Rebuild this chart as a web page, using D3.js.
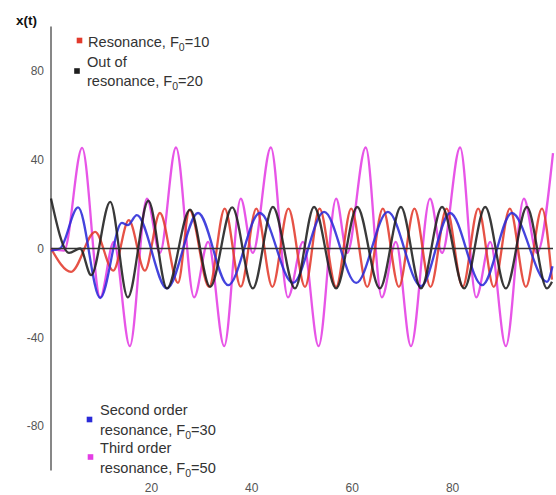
<!DOCTYPE html>
<html><head><meta charset="utf-8">
<script src="https://cdn.jsdelivr.net/npm/d3@7"></script>
<style>body{margin:0;background:#fff;}svg{display:block;font-family:Arial,"Liberation Sans",sans-serif;}</style>
</head><body>
<svg id="chart" width="556" height="495"></svg>
<script>
// Data: [t, x(t)] at start, extrema and end
const resonance10 = [[0,0],[4.0,-10.5],[8.8,7.5],[12.4,-10],[15.5,12.8],[18.7,-10],[21.7,16],[25.3,-15.5],[27.6,17.3],[31.5,-17.3],[34.6,18],[37.8,-17.2],[40.9,18],[44.1,-17.3],[47.3,18],[50.6,-17.3],[53.5,18],[56.8,-17.3],[59.8,18],[63.0,-17.3],[66.1,18],[69.3,-17.3],[72.4,18],[75.6,-17.3],[78.8,18],[82.0,-17.3],[85.1,18],[88.2,-17.3],[91.4,18],[94.6,-17.3],[97.8,18],[99.8,-14]];
const outOfResonance20 = [[0,22.5],[3.6,-2],[5.8,0],[8.0,-12],[11.8,21],[15.3,-22],[19.4,21.5],[23.1,-18],[27.7,17.5],[31.7,-17.3],[36.1,18.5],[40.2,-18],[44.2,18.7],[48.6,-18],[52.4,18.7],[56.8,-18],[61.0,18.7],[65.5,-18],[69.7,18.7],[73.7,-18],[77.9,18.7],[82.3,-18],[86.5,18.7],[90.6,-18],[94.8,18.7],[98.8,-18],[99.8,-15]];
const secondOrder30 = [[0,-1],[1.8,0],[5.4,18.5],[9.8,-22.3],[14.1,11.5],[15.3,10.5],[17.1,15],[23.1,-18],[29.3,16],[35.3,-16.5],[41.6,16],[48.2,-15.5],[54.4,16.5],[60.8,-15.5],[67.1,16.5],[73.7,-17],[79.5,16],[85.9,-16.5],[91.8,16],[98.8,-15],[99.9,-8]];
const thirdOrder50 = [[0,0],[2.6,-1],[6.2,45.3],[9.8,-22],[12.5,3],[15.7,-44],[19.1,22.5],[21.7,-2],[24.9,45.5],[28.5,-22],[31.3,3],[34.5,-44],[37.8,22.5],[40.2,-2],[43.8,45.5],[47.2,-22],[50.2,3],[53.3,-44],[56.8,22.5],[59.0,-2],[62.7,45.5],[65.9,-22],[68.7,3],[71.7,-44],[75.5,22.5],[77.9,-2],[81.5,45.5],[84.7,-22],[87.5,3],[90.6,-44],[94.2,22.5],[96.8,-2],[100,43]];
const yTicks = [-80,-40,0,40,80];
const xTicks = [20,40,60,80];
const seriesF0 = ["=10","=20","=30","=50"];
const seriesColors = ["#e23a2c","#1e1e1e","#2a2ad8","#e43ee4"];

const svg = d3.select("#chart");
const x = d3.scaleLinear().domain([0,100]).range([51,553]);
const y = d3.scaleLinear().domain([-100,100]).range([470.5,26.5]);

// y axis line
svg.append("line").attr("x1",x(0)).attr("x2",x(0)).attr("y1",y(100)).attr("y2",y(-100))
  .attr("stroke","#7a7a7a").attr("stroke-width",1.8);
// y tick labels
svg.append("g").selectAll("text").data(yTicks).join("text")
  .attr("x",44).attr("y",d=>y(d)).attr("dy","0.35em").attr("text-anchor","end")
  .attr("font-size",12).attr("fill","#555").text(d=>d);
// x tick labels
svg.append("g").selectAll("text").data(xTicks).join("text")
  .attr("x",d=>x(d)).attr("y",488).attr("dy","0.35em").attr("text-anchor","middle")
  .attr("font-size",12).attr("fill","#555").text(d=>d);
// axis title
svg.append("text").attr("x",16).attr("y",25).attr("font-size",13.5).attr("font-weight","bold").attr("fill","#111").text("x(t)");

// curves
const line = d3.line().x(d=>x(d[0])).y(d=>y(d[1])).curve(d3.curveMonotoneX);
const data = [resonance10, outOfResonance20, secondOrder30, thirdOrder50];
const drawOrder = [3,0,2,1];
drawOrder.forEach(i=>{
  svg.append("path").datum(data[i]).attr("d",line).attr("fill","none")
    .attr("stroke",seriesColors[i]).attr("stroke-width",2.3).attr("stroke-opacity",0.88);
});
// zero line
svg.append("line").attr("x1",x(0)).attr("x2",x(100)).attr("y1",y(0)).attr("y2",y(0))
  .attr("stroke","#333").attr("stroke-width",1.3);

// legends
const legends = [
  {i:0, mx:79.5, my:40.5, tx:88, lines:[], last:"Resonance, F", by:[47]},
  {i:1, mx:77, my:71, tx:87, lines:["Out of"], last:"resonance, F", by:[67,86]},
  {i:2, mx:89.5, my:419.5, tx:100, lines:["Second order"], last:"resonance, F", by:[415,435]},
  {i:3, mx:90.5, my:457, tx:100, lines:["Third order"], last:"resonance, F", by:[453,473]}
];
legends.forEach(L=>{
  svg.append("rect").attr("x",L.mx-2.8).attr("y",L.my-2.8).attr("width",5.6).attr("height",5.6)
    .attr("fill",seriesColors[L.i]);
  L.lines.forEach((s,k)=>{
    svg.append("text").attr("x",L.tx).attr("y",L.by[k]).attr("font-size",14.6).attr("fill","#333").text(s);
  });
  const t = svg.append("text").attr("x",L.tx).attr("y",L.by[L.by.length-1]).attr("font-size",14.6).attr("fill","#333");
  t.append("tspan").text(L.last);
  t.append("tspan").attr("font-size",10.5).attr("dy",4).text("0");
  t.append("tspan").attr("dy",-4).text(seriesF0[L.i]);
});
</script>
</body></html>
